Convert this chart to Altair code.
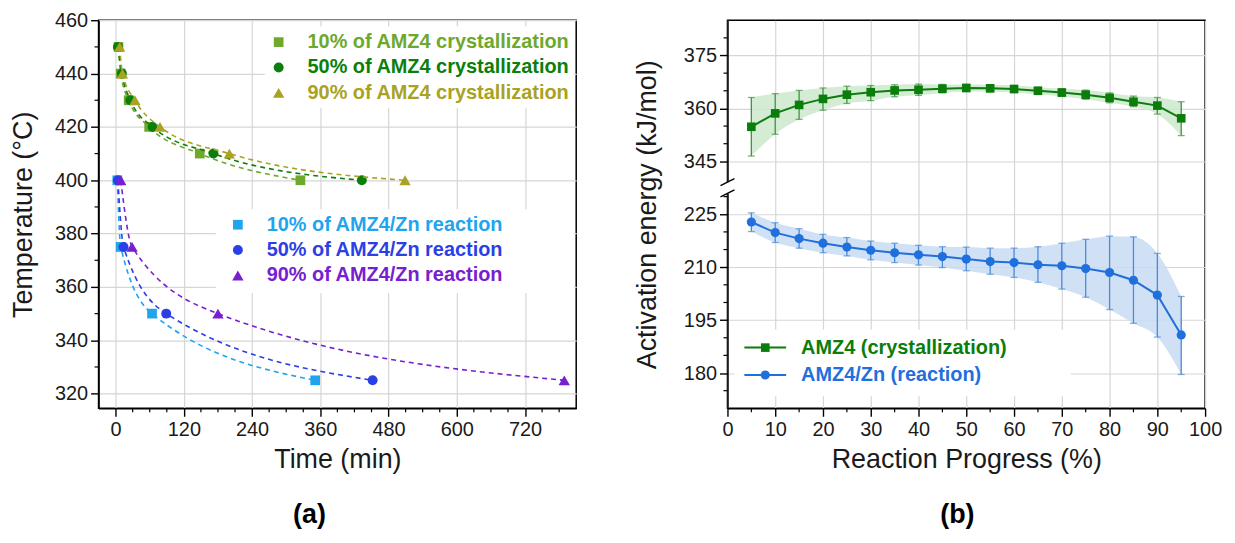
import altair as alt
import pandas as pd

FONT = "Liberation Sans"
W, H = 480, 390
OFFSET = 105  # axis-break offset used for the upper segment of panel (b)

# ---------------- panel (a) data ----------------
names_a = ["10% of AMZ4 crystallization", "50% of AMZ4 crystallization", "90% of AMZ4 crystallization",
           "10% of AMZ4/Zn reaction", "50% of AMZ4/Zn reaction", "90% of AMZ4/Zn reaction"]
colors_a = ["#6ea82c", "#0b7f0b", "#a9a223", "#1ea5ee", "#2b3fe6", "#7620cf"]
shapes_a = ["square", "circle", "triangle-up", "square", "circle", "triangle-up"]
sizes_a = [95, 100, 130, 95, 100, 130]

time_c10 = [5, 9, 23, 59, 148, 325]
temp_c10 = [450, 440, 430, 420, 410, 400]
time_c50 = [4, 11, 26, 65, 172, 433]
temp_c50 = [450, 440, 430, 420, 410, 400]
time_c90 = [7, 12, 34, 78, 200, 509]
temp_c90 = [450, 440, 430, 420, 410, 400]
time_z10 = [3, 9, 64, 351]
temp_z10 = [400, 375, 350, 325]
time_z50 = [4, 14, 89, 452]
temp_z50 = [400, 375, 350, 325]
time_z90 = [9, 29, 180, 789]
temp_z90 = [400, 375, 350, 325]
times_a = [time_c10, time_c50, time_c90, time_z10, time_z50, time_z90]
temps_a = [temp_c10, temp_c50, temp_c90, temp_z10, temp_z50, temp_z90]

xa_major = [0, 120, 240, 360, 480, 600, 720]
xa_minor = [30, 60, 90, 150, 180, 210, 270, 300, 330, 390, 420, 450, 510, 540, 570, 630, 660, 690, 750, 780]
ya_major = [320, 340, 360, 380, 400, 420, 440, 460]
ya_minor = [330, 350, 370, 390, 410, 430, 450]

# ---------------- panel (b) data ----------------
progress = [5, 10, 15, 20, 25, 30, 35, 40, 45, 50, 55, 60, 65, 70, 75, 80, 85, 90, 95]
amz4_mean = [354.8, 358.6, 361.0, 362.7, 363.9, 364.6, 365.1, 365.3, 365.6, 365.8, 365.7, 365.5,
             365.0, 364.5, 363.9, 363.0, 361.9, 360.8, 357.2]
amz4_lo = [346.5, 352.7, 356.9, 359.5, 361.4, 362.2, 363.3, 363.7, 364.4, 364.8, 364.7, 364.5,
           364.0, 363.4, 362.6, 361.6, 360.5, 358.4, 352.3]
amz4_hi = [363.1, 364.2, 365.1, 365.8, 366.3, 366.5, 366.7, 366.9, 366.8, 366.8, 366.7, 366.5,
           366.0, 365.6, 365.2, 364.4, 363.5, 363.1, 361.9]
zn_mean = [222.8, 219.8, 218.1, 216.8, 215.7, 214.8, 214.1, 213.5, 213.0, 212.3, 211.6, 211.3,
           210.7, 210.4, 209.6, 208.5, 206.3, 202.1, 190.8]
zn_lo = [220.1, 217.0, 215.4, 214.1, 213.2, 212.1, 211.3, 210.6, 209.9, 209.0, 208.0, 207.1,
         205.7, 203.8, 201.5, 198.0, 194.1, 190.2, 179.6]
zn_hi = [225.4, 222.6, 220.9, 219.3, 218.4, 217.4, 216.8, 216.2, 215.8, 215.7, 215.4, 215.4,
         215.8, 216.8, 217.9, 218.8, 218.6, 213.9, 201.7]
names_b = ["AMZ4 (crystallization)", "AMZ4/Zn (reaction)"]
colors_b = ["#0a7d0a", "#1f6fdc"]
err_colors_b = ["#3f933f", "#4a8ad6"]
band_colors_b = ["#cce8cc", "#c8dcf5"]

xb_major = [0, 10, 20, 30, 40, 50, 60, 70, 80, 90, 100]
xb_minor = [5, 15, 25, 35, 45, 55, 65, 75, 85, 95]
# y ticks of panel (b) in display units (upper segment shifted down by OFFSET)
yb_major = [180, 195, 210, 225, 240, 255, 270]
yb_minor = [175, 185, 190, 200, 205, 215, 220, 230, 245, 250, 260, 265, 275]

one = pd.DataFrame({"k": [0]})
LEG_FS = 20

# ---------------- panel (a) ----------------
sxa = alt.Scale(domain=[-30, 810], nice=False, zero=False)
sya = alt.Scale(domain=[314.5, 460], nice=False, zero=False)
axa = alt.Axis(values=xa_major, title="Time (min)", titlePadding=7)
aya = alt.Axis(values=ya_major, title="Temperature (°C)", titlePadding=17)


def XA(f):
    return alt.X(f, type="quantitative", scale=sxa, axis=axa)


def YA(f):
    return alt.Y(f, type="quantitative", scale=sya, axis=aya)


layers_a = []
# white legend boxes
layers_a.append(alt.Chart(one).mark_rect(color="white").encode(
    x=alt.value(167), x2=alt.value(478), y=alt.value(6), y2=alt.value(88)))
layers_a.append(alt.Chart(one).mark_rect(color="white").encode(
    x=alt.value(118), x2=alt.value(478), y=alt.value(190), y2=alt.value(274)))

for name, col, shp, sz, ts, vs in zip(names_a, colors_a, shapes_a, sizes_a, times_a, temps_a):
    d = pd.DataFrame({"t": ts, "T": vs, "s": name})
    layers_a.append(alt.Chart(d).mark_line(color=col, strokeDash=[5, 4], strokeWidth=1.6,
                                           interpolate="monotone").encode(x=XA("t"), y=YA("T")))
    layers_a.append(alt.Chart(d).mark_point(shape=shp, filled=True, size=sz, color=col, opacity=1).encode(
        x=XA("t"), y=YA("T")))

# legends
leg_rows = [22, 47.5, 73, 205.5, 231, 256.5]
leg_sym_x = [181, 181, 181, 140, 140, 140]
leg_txt_x = [210, 210, 210, 169, 169, 169]
for name, col, shp, sz, yy, sx_, tx_ in zip(names_a, colors_a, shapes_a, sizes_a, leg_rows, leg_sym_x, leg_txt_x):
    d = pd.DataFrame({"label": [name]})
    layers_a.append(alt.Chart(d).mark_point(shape=shp, filled=True, size=sz, color=col, opacity=1).encode(
        x=alt.value(sx_), y=alt.value(yy)))
    layers_a.append(alt.Chart(d).mark_text(align="left", baseline="middle", font=FONT, fontSize=LEG_FS,
                                           fontWeight="bold", color=col).encode(
        x=alt.value(tx_), y=alt.value(yy), text="label:N"))

# minor ticks
layers_a.append(alt.Chart(pd.DataFrame({"v": xa_minor})).mark_rule(color="black", strokeWidth=1.2).encode(
    x=XA("v"), y=alt.value(H), y2=alt.value(H + 4)))
layers_a.append(alt.Chart(pd.DataFrame({"v": ya_minor})).mark_rule(color="black", strokeWidth=1.2).encode(
    y=YA("v"), x=alt.value(0), x2=alt.value(-4)))
# panel label
layers_a.append(alt.Chart(pd.DataFrame({"label": ["(a)"]})).mark_text(
    font=FONT, fontSize=27, fontWeight="bold", color="black", baseline="middle", align="center").encode(
    x=alt.value(212), y=alt.value(497), text="label:N"))

left = alt.layer(*layers_a).properties(width=W, height=H)

# ---------------- panel (b) ----------------
sxb = alt.Scale(domain=[0, 100], nice=False, zero=False)
syb = alt.Scale(domain=[170, 280], nice=False, zero=False)
axb = alt.Axis(values=xb_major, title="Reaction Progress (%)", titlePadding=7)
ayb = alt.Axis(values=yb_major, title="Activation energy (kJ/mol)", titlePadding=22,
               labelExpr="format(datum.value > 232 ? datum.value + 105 : datum.value, 'd')")


def XB(f):
    return alt.X(f, type="quantitative", scale=sxb, axis=axb)


def YB(f):
    return alt.Y(f, type="quantitative", scale=syb, axis=ayb)


layers_b = []
layers_b.append(alt.Chart(one).mark_rect(color="white").encode(
    x=alt.value(7), x2=alt.value(345), y=alt.value(311), y2=alt.value(378)))

series_b = [
    (names_b[0], colors_b[0], err_colors_b[0], band_colors_b[0], "square", 75,
     [v - OFFSET for v in amz4_mean], [v - OFFSET for v in amz4_lo], [v - OFFSET for v in amz4_hi]),
    (names_b[1], colors_b[1], err_colors_b[1], band_colors_b[1], "circle", 85, zn_mean, zn_lo, zn_hi),
]
for name, col, ecol, bcol, shp, sz, m, lo, hi in series_b:
    d = pd.DataFrame({"p": progress, "m": m, "lo": lo, "hi": hi})
    layers_b.append(alt.Chart(d).mark_area(color=bcol, opacity=0.85, interpolate="monotone").encode(
        x=XB("p"), y=YB("lo"), y2="hi"))
for name, col, ecol, bcol, shp, sz, m, lo, hi in series_b:
    d = pd.DataFrame({"p": progress, "m": m, "lo": lo, "hi": hi})
    layers_b.append(alt.Chart(d).mark_rule(color=ecol, strokeWidth=1.3).encode(
        x=XB("p"), y=YB("lo"), y2="hi"))
    layers_b.append(alt.Chart(d).mark_tick(color=ecol, orient="horizontal", size=7, thickness=1.3).encode(
        x=XB("p"), y=YB("lo")))
    layers_b.append(alt.Chart(d).mark_tick(color=ecol, orient="horizontal", size=7, thickness=1.3).encode(
        x=XB("p"), y=YB("hi")))
    layers_b.append(alt.Chart(d).mark_line(color=col, strokeWidth=2).encode(x=XB("p"), y=YB("m")))
    layers_b.append(alt.Chart(d).mark_point(shape=shp, filled=True, size=sz, color=col, opacity=1).encode(
        x=XB("p"), y=YB("m")))

# legend
for (name, col, ecol, bcol, shp, sz, m, lo, hi), yy in zip(series_b, [329, 356.5]):
    d = pd.DataFrame({"label": [name]})
    layers_b.append(alt.Chart(d).mark_rule(color=col, strokeWidth=2).encode(
        x=alt.value(17), x2=alt.value(59), y=alt.value(yy)))
    layers_b.append(alt.Chart(d).mark_point(shape=shp, filled=True, size=sz, color=col, opacity=1).encode(
        x=alt.value(38), y=alt.value(yy)))
    layers_b.append(alt.Chart(d).mark_text(align="left", baseline="middle", font=FONT, fontSize=LEG_FS,
                                           fontWeight="bold", color=col).encode(
        x=alt.value(74), y=alt.value(yy), text="label:N"))

# minor ticks
layers_b.append(alt.Chart(pd.DataFrame({"v": xb_minor})).mark_rule(color="black", strokeWidth=1.2).encode(
    x=XB("v"), y=alt.value(H), y2=alt.value(H + 4)))
layers_b.append(alt.Chart(pd.DataFrame({"v": yb_minor})).mark_rule(color="black", strokeWidth=1.2).encode(
    y=YB("v"), x=alt.value(0), x2=alt.value(-4)))

# axis break: mask + two slashes
layers_b.append(alt.Chart(one).mark_rect(color="white").encode(
    x=alt.value(-3), x2=alt.value(3), y=alt.datum(230.9), y2=alt.datum(234.1)))
layers_b.append(alt.Chart(one).mark_rule(color="black", strokeWidth=1.4).encode(
    x=alt.value(-7), x2=alt.value(7), y=alt.datum(229.9), y2=alt.datum(231.9)))
layers_b.append(alt.Chart(one).mark_rule(color="black", strokeWidth=1.4).encode(
    x=alt.value(-7), x2=alt.value(7), y=alt.datum(233.1), y2=alt.datum(235.1)))

# invisible spacer so both panels have equal top extent
layers_b.append(alt.Chart(pd.DataFrame({"label": ["460"]})).mark_text(
    font=FONT, fontSize=20, opacity=0, align="right", baseline="middle").encode(
    x=alt.value(-11), y=alt.value(0), text="label:N"))
layers_b.append(alt.Chart(pd.DataFrame({"label": ["(b)"]})).mark_text(
    font=FONT, fontSize=27, fontWeight="bold", color="black", baseline="middle", align="center").encode(
    x=alt.value(231), y=alt.value(497), text="label:N"))

right = alt.layer(*layers_b).properties(width=W, height=H)

chart = alt.hconcat(left, right, spacing=55).properties(
    padding={"left": 0, "top": 0, "right": 4, "bottom": 0}
).configure_view(stroke="black", strokeWidth=1.5).configure_axis(
    labelFont=FONT, titleFont=FONT, labelFontSize=20, titleFontSize=27, titleFontWeight="normal",
    labelColor="#1a1a1a", titleColor="#1a1a1a", tickColor="black", domainColor="black",
    gridColor="#d6d6d6", gridWidth=1.2, tickSize=8, tickWidth=1.4, domainWidth=1.5, labelPadding=3,
    labelFlush=False
)

chart.save("out.html", embed_options={"renderer": "svg", "actions": False})
